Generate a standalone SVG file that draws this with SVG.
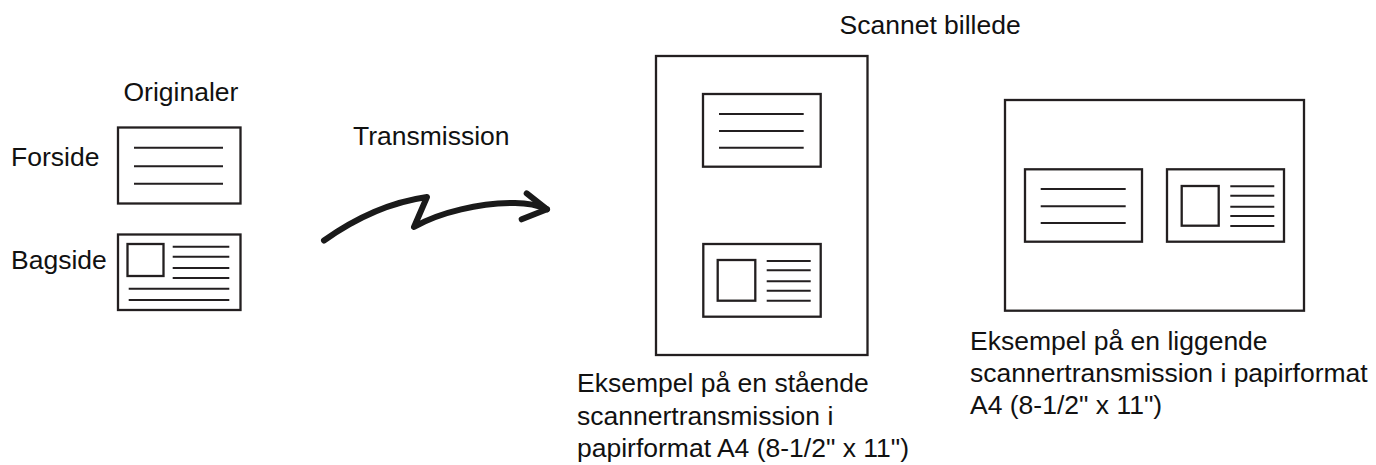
<svg xmlns="http://www.w3.org/2000/svg" width="1376" height="465" viewBox="0 0 1376 465">
<style>
text{font-family:"Liberation Sans",Arial,sans-serif;font-size:26.5px;fill:#111}
.box{fill:#fff;stroke:#231f20;stroke-width:2.3}
.ln{stroke:#231f20;stroke-width:2}
.arr{fill:none;stroke:#1a1a1a;stroke-width:6;stroke-linecap:round;stroke-linejoin:round}
</style>
<rect width="1376" height="465" fill="#fff"/>
<g id="originals">
<text x="123.5" y="101">Originaler</text>
<text x="11" y="166">Forside</text>
<text x="11" y="269">Bagside</text>
<g id="front">
<rect class="box" x="118" y="127.5" width="122.5" height="76"/>
<path class="ln" d="M134 147.7H223M134 166.3H223M134 183.7H223"/>
</g>
<g id="back">
<rect class="box" x="118" y="234.5" width="122.5" height="75.5"/>
<rect class="box" x="127.5" y="244" width="36" height="32"/>
<path class="ln" d="M172.7 246.7H229.3M172.7 256.7H229.3M172.7 268H229.3M172.7 278H229.3M128.7 288.7H229.3M128.7 300H229.3"/>
</g>
</g>
<g id="connectors">
<text x="353" y="144.5">Transmission</text>
<path class="arr" d="M324 240.5C350 222 385 203 427 197L414 227C440 212 480 203 515 203C530 203 540 206 547 209.3"/>
<path class="arr" d="M526.7 193.3L547 209.3L521.7 219.3"/>
</g>
<g id="portrait">
<text x="839.5" y="33.5">Scannet billede</text>
<rect class="box" x="656" y="56" width="211.5" height="299"/>
<rect class="box" x="703" y="94" width="117.7" height="72.7"/>
<path class="ln" d="M719 114H803.7M719 131H803.7M719 147.7H803.7"/>
<rect class="box" x="703.3" y="244" width="117.4" height="72.7"/>
<rect class="box" x="717.7" y="260" width="37.6" height="40.7"/>
<path class="ln" d="M766.7 261H810.7M766.7 270.3H810.7M766.7 281.3H810.7M766.7 290.7H810.7M766.7 300.7H810.7"/>
<text x="577" y="392">Eksempel på en stående</text>
<text x="577" y="424.5">scannertransmission i</text>
<text x="577" y="457">papirformat A4 (8-1/2" x 11")</text>
</g>
<g id="landscape">
<rect class="box" x="1005" y="100" width="299" height="210.7"/>
<rect class="box" x="1025" y="169.3" width="117" height="72.4"/>
<path class="ln" d="M1040.7 189H1125.7M1040.7 206.3H1125.7M1040.7 223H1125.7"/>
<rect class="box" x="1167" y="169.3" width="117" height="72.4"/>
<rect class="box" x="1181.7" y="186" width="37" height="39.7"/>
<path class="ln" d="M1230.3 186.3H1274.3M1230.3 195.7H1274.3M1230.3 206.7H1274.3M1230.3 216H1274.3M1230.3 226H1274.3"/>
<text x="970" y="349.5">Eksempel på en liggende</text>
<text x="970" y="381.5">scannertransmission i papirformat</text>
<text x="970" y="413.5">A4 (8-1/2" x 11")</text>
</g>
</svg>
